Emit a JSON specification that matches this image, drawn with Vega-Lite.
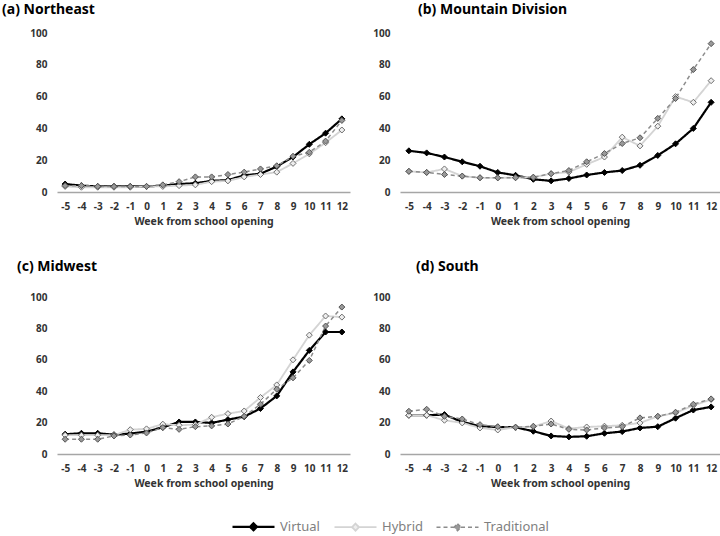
{
"$schema":"https://vega.github.io/schema/vega-lite/v6.json",
"padding":{"left":2,"top":3,"right":0,"bottom":0},
"background":"white",
"data":{"values":[
{"region":"Northeast","series":"Virtual","week":-5,"value":5},{"region":"Northeast","series":"Virtual","week":-4,"value":4},{"region":"Northeast","series":"Virtual","week":-3,"value":3.5},{"region":"Northeast","series":"Virtual","week":-2,"value":3.5},{"region":"Northeast","series":"Virtual","week":-1,"value":3.5},{"region":"Northeast","series":"Virtual","week":0,"value":3.5},{"region":"Northeast","series":"Virtual","week":1,"value":4},{"region":"Northeast","series":"Virtual","week":2,"value":5},{"region":"Northeast","series":"Virtual","week":3,"value":5.5},{"region":"Northeast","series":"Virtual","week":4,"value":7},{"region":"Northeast","series":"Virtual","week":5,"value":7.5},{"region":"Northeast","series":"Virtual","week":6,"value":10.5},{"region":"Northeast","series":"Virtual","week":7,"value":11.5},{"region":"Northeast","series":"Virtual","week":8,"value":16},{"region":"Northeast","series":"Virtual","week":9,"value":22},{"region":"Northeast","series":"Virtual","week":10,"value":30},{"region":"Northeast","series":"Virtual","week":11,"value":37},{"region":"Northeast","series":"Virtual","week":12,"value":46},
{"region":"Northeast","series":"Hybrid","week":-5,"value":3.5},{"region":"Northeast","series":"Hybrid","week":-4,"value":3},{"region":"Northeast","series":"Hybrid","week":-3,"value":3},{"region":"Northeast","series":"Hybrid","week":-2,"value":3},{"region":"Northeast","series":"Hybrid","week":-1,"value":3},{"region":"Northeast","series":"Hybrid","week":0,"value":3.5},{"region":"Northeast","series":"Hybrid","week":1,"value":3.5},{"region":"Northeast","series":"Hybrid","week":2,"value":4},{"region":"Northeast","series":"Hybrid","week":3,"value":4.5},{"region":"Northeast","series":"Hybrid","week":4,"value":6.5},{"region":"Northeast","series":"Hybrid","week":5,"value":7},{"region":"Northeast","series":"Hybrid","week":6,"value":9.5},{"region":"Northeast","series":"Hybrid","week":7,"value":11},{"region":"Northeast","series":"Hybrid","week":8,"value":12.5},{"region":"Northeast","series":"Hybrid","week":9,"value":18},{"region":"Northeast","series":"Hybrid","week":10,"value":24},{"region":"Northeast","series":"Hybrid","week":11,"value":31},{"region":"Northeast","series":"Hybrid","week":12,"value":39},
{"region":"Northeast","series":"Traditional","week":-5,"value":4},{"region":"Northeast","series":"Traditional","week":-4,"value":4},{"region":"Northeast","series":"Traditional","week":-3,"value":3.5},{"region":"Northeast","series":"Traditional","week":-2,"value":3.5},{"region":"Northeast","series":"Traditional","week":-1,"value":3.5},{"region":"Northeast","series":"Traditional","week":0,"value":3.5},{"region":"Northeast","series":"Traditional","week":1,"value":4.5},{"region":"Northeast","series":"Traditional","week":2,"value":6.5},{"region":"Northeast","series":"Traditional","week":3,"value":9.5},{"region":"Northeast","series":"Traditional","week":4,"value":9.5},{"region":"Northeast","series":"Traditional","week":5,"value":11},{"region":"Northeast","series":"Traditional","week":6,"value":12.5},{"region":"Northeast","series":"Traditional","week":7,"value":14.5},{"region":"Northeast","series":"Traditional","week":8,"value":16.5},{"region":"Northeast","series":"Traditional","week":9,"value":22.5},{"region":"Northeast","series":"Traditional","week":10,"value":25},{"region":"Northeast","series":"Traditional","week":11,"value":32},{"region":"Northeast","series":"Traditional","week":12,"value":45},
{"region":"Mountain Division","series":"Virtual","week":-5,"value":25.9},{"region":"Mountain Division","series":"Virtual","week":-4,"value":24.6},{"region":"Mountain Division","series":"Virtual","week":-3,"value":22},{"region":"Mountain Division","series":"Virtual","week":-2,"value":19},{"region":"Mountain Division","series":"Virtual","week":-1,"value":16.2},{"region":"Mountain Division","series":"Virtual","week":0,"value":12.3},{"region":"Mountain Division","series":"Virtual","week":1,"value":10.5},{"region":"Mountain Division","series":"Virtual","week":2,"value":8},{"region":"Mountain Division","series":"Virtual","week":3,"value":7},{"region":"Mountain Division","series":"Virtual","week":4,"value":8.5},{"region":"Mountain Division","series":"Virtual","week":5,"value":10.7},{"region":"Mountain Division","series":"Virtual","week":6,"value":12.3},{"region":"Mountain Division","series":"Virtual","week":7,"value":13.5},{"region":"Mountain Division","series":"Virtual","week":8,"value":16.8},{"region":"Mountain Division","series":"Virtual","week":9,"value":23},{"region":"Mountain Division","series":"Virtual","week":10,"value":30.3},{"region":"Mountain Division","series":"Virtual","week":11,"value":40},{"region":"Mountain Division","series":"Virtual","week":12,"value":56.4},
{"region":"Mountain Division","series":"Hybrid","week":-5,"value":13},{"region":"Mountain Division","series":"Hybrid","week":-4,"value":12.3},{"region":"Mountain Division","series":"Hybrid","week":-3,"value":14.5},{"region":"Mountain Division","series":"Hybrid","week":-2,"value":10},{"region":"Mountain Division","series":"Hybrid","week":-1,"value":8.9},{"region":"Mountain Division","series":"Hybrid","week":0,"value":8.9},{"region":"Mountain Division","series":"Hybrid","week":1,"value":9},{"region":"Mountain Division","series":"Hybrid","week":2,"value":9.3},{"region":"Mountain Division","series":"Hybrid","week":3,"value":11.5},{"region":"Mountain Division","series":"Hybrid","week":4,"value":12.5},{"region":"Mountain Division","series":"Hybrid","week":5,"value":17.4},{"region":"Mountain Division","series":"Hybrid","week":6,"value":22},{"region":"Mountain Division","series":"Hybrid","week":7,"value":34.5},{"region":"Mountain Division","series":"Hybrid","week":8,"value":29},{"region":"Mountain Division","series":"Hybrid","week":9,"value":41.4},{"region":"Mountain Division","series":"Hybrid","week":10,"value":60},{"region":"Mountain Division","series":"Hybrid","week":11,"value":56.4},{"region":"Mountain Division","series":"Hybrid","week":12,"value":70},
{"region":"Mountain Division","series":"Traditional","week":-5,"value":13},{"region":"Mountain Division","series":"Traditional","week":-4,"value":12.3},{"region":"Mountain Division","series":"Traditional","week":-3,"value":11},{"region":"Mountain Division","series":"Traditional","week":-2,"value":10},{"region":"Mountain Division","series":"Traditional","week":-1,"value":9},{"region":"Mountain Division","series":"Traditional","week":0,"value":8.9},{"region":"Mountain Division","series":"Traditional","week":1,"value":9},{"region":"Mountain Division","series":"Traditional","week":2,"value":9.3},{"region":"Mountain Division","series":"Traditional","week":3,"value":11.5},{"region":"Mountain Division","series":"Traditional","week":4,"value":13.5},{"region":"Mountain Division","series":"Traditional","week":5,"value":19},{"region":"Mountain Division","series":"Traditional","week":6,"value":24.2},{"region":"Mountain Division","series":"Traditional","week":7,"value":30.5},{"region":"Mountain Division","series":"Traditional","week":8,"value":34.1},{"region":"Mountain Division","series":"Traditional","week":9,"value":46.3},{"region":"Mountain Division","series":"Traditional","week":10,"value":58.8},{"region":"Mountain Division","series":"Traditional","week":11,"value":77},{"region":"Mountain Division","series":"Traditional","week":12,"value":93.3},
{"region":"Midwest","series":"Virtual","week":-5,"value":12.6},{"region":"Midwest","series":"Virtual","week":-4,"value":13.2},{"region":"Midwest","series":"Virtual","week":-3,"value":13.2},{"region":"Midwest","series":"Virtual","week":-2,"value":12.3},{"region":"Midwest","series":"Virtual","week":-1,"value":13},{"region":"Midwest","series":"Virtual","week":0,"value":14.3},{"region":"Midwest","series":"Virtual","week":1,"value":17},{"region":"Midwest","series":"Virtual","week":2,"value":20.4},{"region":"Midwest","series":"Virtual","week":3,"value":20.4},{"region":"Midwest","series":"Virtual","week":4,"value":19.8},{"region":"Midwest","series":"Virtual","week":5,"value":21.9},{"region":"Midwest","series":"Virtual","week":6,"value":23.8},{"region":"Midwest","series":"Virtual","week":7,"value":29},{"region":"Midwest","series":"Virtual","week":8,"value":37},{"region":"Midwest","series":"Virtual","week":9,"value":52.3},{"region":"Midwest","series":"Virtual","week":10,"value":66},{"region":"Midwest","series":"Virtual","week":11,"value":77.7},{"region":"Midwest","series":"Virtual","week":12,"value":77.7},
{"region":"Midwest","series":"Hybrid","week":-5,"value":12},{"region":"Midwest","series":"Hybrid","week":-4,"value":12},{"region":"Midwest","series":"Hybrid","week":-3,"value":12},{"region":"Midwest","series":"Hybrid","week":-2,"value":12},{"region":"Midwest","series":"Hybrid","week":-1,"value":15.5},{"region":"Midwest","series":"Hybrid","week":0,"value":16},{"region":"Midwest","series":"Hybrid","week":1,"value":19},{"region":"Midwest","series":"Hybrid","week":2,"value":18.3},{"region":"Midwest","series":"Hybrid","week":3,"value":18.7},{"region":"Midwest","series":"Hybrid","week":4,"value":23.4},{"region":"Midwest","series":"Hybrid","week":5,"value":25.7},{"region":"Midwest","series":"Hybrid","week":6,"value":27.4},{"region":"Midwest","series":"Hybrid","week":7,"value":36},{"region":"Midwest","series":"Hybrid","week":8,"value":44},{"region":"Midwest","series":"Hybrid","week":9,"value":60},{"region":"Midwest","series":"Hybrid","week":10,"value":75.7},{"region":"Midwest","series":"Hybrid","week":11,"value":87.9},{"region":"Midwest","series":"Hybrid","week":12,"value":87.2},
{"region":"Midwest","series":"Traditional","week":-5,"value":9.4},{"region":"Midwest","series":"Traditional","week":-4,"value":9.4},{"region":"Midwest","series":"Traditional","week":-3,"value":9.4},{"region":"Midwest","series":"Traditional","week":-2,"value":11.5},{"region":"Midwest","series":"Traditional","week":-1,"value":12.1},{"region":"Midwest","series":"Traditional","week":0,"value":13.4},{"region":"Midwest","series":"Traditional","week":1,"value":16.8},{"region":"Midwest","series":"Traditional","week":2,"value":15.7},{"region":"Midwest","series":"Traditional","week":3,"value":17.4},{"region":"Midwest","series":"Traditional","week":4,"value":17.9},{"region":"Midwest","series":"Traditional","week":5,"value":19.1},{"region":"Midwest","series":"Traditional","week":6,"value":24},{"region":"Midwest","series":"Traditional","week":7,"value":31.7},{"region":"Midwest","series":"Traditional","week":8,"value":41.3},{"region":"Midwest","series":"Traditional","week":9,"value":48.5},{"region":"Midwest","series":"Traditional","week":10,"value":59.6},{"region":"Midwest","series":"Traditional","week":11,"value":81.5},{"region":"Midwest","series":"Traditional","week":12,"value":93.6},
{"region":"South","series":"Virtual","week":-5,"value":24.7},{"region":"South","series":"Virtual","week":-4,"value":24.7},{"region":"South","series":"Virtual","week":-3,"value":25.1},{"region":"South","series":"Virtual","week":-2,"value":20.4},{"region":"South","series":"Virtual","week":-1,"value":17.7},{"region":"South","series":"Virtual","week":0,"value":17.2},{"region":"South","series":"Virtual","week":1,"value":17},{"region":"South","series":"Virtual","week":2,"value":14.5},{"region":"South","series":"Virtual","week":3,"value":11.5},{"region":"South","series":"Virtual","week":4,"value":10.9},{"region":"South","series":"Virtual","week":5,"value":11.3},{"region":"South","series":"Virtual","week":6,"value":13.2},{"region":"South","series":"Virtual","week":7,"value":14.3},{"region":"South","series":"Virtual","week":8,"value":16.6},{"region":"South","series":"Virtual","week":9,"value":17.4},{"region":"South","series":"Virtual","week":10,"value":22.8},{"region":"South","series":"Virtual","week":11,"value":28},{"region":"South","series":"Virtual","week":12,"value":30},
{"region":"South","series":"Hybrid","week":-5,"value":24.7},{"region":"South","series":"Hybrid","week":-4,"value":24.7},{"region":"South","series":"Hybrid","week":-3,"value":21.5},{"region":"South","series":"Hybrid","week":-2,"value":19.8},{"region":"South","series":"Hybrid","week":-1,"value":16.6},{"region":"South","series":"Hybrid","week":0,"value":15.3},{"region":"South","series":"Hybrid","week":1,"value":17},{"region":"South","series":"Hybrid","week":2,"value":17.4},{"region":"South","series":"Hybrid","week":3,"value":21},{"region":"South","series":"Hybrid","week":4,"value":16.2},{"region":"South","series":"Hybrid","week":5,"value":17.2},{"region":"South","series":"Hybrid","week":6,"value":17.7},{"region":"South","series":"Hybrid","week":7,"value":18.3},{"region":"South","series":"Hybrid","week":8,"value":19.8},{"region":"South","series":"Hybrid","week":9,"value":24},{"region":"South","series":"Hybrid","week":10,"value":26.2},{"region":"South","series":"Hybrid","week":11,"value":30.9},{"region":"South","series":"Hybrid","week":12,"value":34.7},
{"region":"South","series":"Traditional","week":-5,"value":27.2},{"region":"South","series":"Traditional","week":-4,"value":28.5},{"region":"South","series":"Traditional","week":-3,"value":24},{"region":"South","series":"Traditional","week":-2,"value":22.3},{"region":"South","series":"Traditional","week":-1,"value":18.7},{"region":"South","series":"Traditional","week":0,"value":17.4},{"region":"South","series":"Traditional","week":1,"value":17},{"region":"South","series":"Traditional","week":2,"value":17.7},{"region":"South","series":"Traditional","week":3,"value":19.1},{"region":"South","series":"Traditional","week":4,"value":15.7},{"region":"South","series":"Traditional","week":5,"value":15.3},{"region":"South","series":"Traditional","week":6,"value":16.6},{"region":"South","series":"Traditional","week":7,"value":17.4},{"region":"South","series":"Traditional","week":8,"value":23},{"region":"South","series":"Traditional","week":9,"value":24},{"region":"South","series":"Traditional","week":10,"value":26.6},{"region":"South","series":"Traditional","week":11,"value":31.7},{"region":"South","series":"Traditional","week":12,"value":35.1}
]},
"config":{
 "view":{"stroke":null},
 "font":"Noto Sans",
 "title":{"font":"Noto Sans","fontSize":14,"fontWeight":"bold","color":"#000000","anchor":"start","frame":"group"},
 "axisX":{"domainColor":"#a6a6a6","domainWidth":1.5,"ticks":false,"grid":false,"labelAngle":0,"labelFont":"Noto Sans","labelFontWeight":"bold","labelFontSize":10,"labelColor":"#333333","labelPadding":9,"titleFont":"Noto Sans","titleFontWeight":"bold","titleFontSize":10.5,"titleColor":"#333333","titlePadding":5},
 "axisY":{"domain":false,"ticks":false,"grid":false,"labelFont":"Noto Sans","labelFontWeight":"bold","labelFontSize":10,"labelColor":"#333333","labelPadding":10}
},
"columns":2,
"spacing":{"row":105,"column":50},
"bounds":"flush",
"concat":[
  {"width":293,"height":159,
   "title":{"text":"(a) Northeast","dx":-55,"offset":11},
   "transform":[{"filter":"datum.region==='Northeast'"}],
   "encoding":{
    "x":{"field":"week","type":"ordinal","scale":{"type":"point","padding":0.5,"domain":[-5,-4,-3,-2,-1,0,1,2,3,4,5,6,7,8,9,10,11,12]},"axis":{"title":"Week from school opening"}},
    "y":{"field":"value","type":"quantitative","scale":{"domain":[0,100]},"axis":{"title":null,"values":[0,20,40,60,80,100]}}
   },
   "layer":[
    {"mark":{"type":"line"},"encoding":{
      "color":{"field":"series","type":"nominal","scale":{"domain":["Virtual","Hybrid","Traditional"],"range":["#000000","#d4d4d4","#8c8c8c"]},"legend":{"title":null,"orient":"none","legendX":174,"legendY":487,"direction":"horizontal","symbolType":"M-4.2,0H-0.7M0.7,0H4.2M0,-0.7L0.7,0L0,0.7L-0.7,0Z","symbolSize":100,"symbolStrokeWidth":2,"labelFontSize":13,"labelColor":"#7f7f7f","labelFont":"Noto Sans","symbolOffset":16,"labelOffset":20,"columnPadding":10}},
      "strokeDash":{"field":"series","type":"nominal","scale":{"domain":["Virtual","Hybrid","Traditional"],"range":[[1,0],[1,0],[4,3]]},"legend":{"title":null,"orient":"none","legendX":174,"legendY":487,"direction":"horizontal","symbolType":"M-4.2,0H-0.7M0.7,0H4.2M0,-0.7L0.7,0L0,0.7L-0.7,0Z","symbolSize":100,"symbolStrokeWidth":2,"labelFontSize":13,"labelColor":"#7f7f7f","labelFont":"Noto Sans","symbolOffset":16,"labelOffset":20,"columnPadding":10}},
      "strokeWidth":{"field":"series","type":"ordinal","scale":{"domain":["Virtual","Hybrid","Traditional"],"range":[2.2,1.5,1.3]},"legend":null}}},
    {"mark":{"type":"point","shape":"diamond","filled":true,"size":36,"strokeWidth":1,"opacity":1},"encoding":{
      "fill":{"field":"series","type":"nominal","scale":{"domain":["Virtual","Hybrid","Traditional"],"range":["#000000","#eeeeee","#999999"]},"legend":{"title":null,"orient":"none","legendX":174,"legendY":487,"direction":"horizontal","symbolType":"M-4.2,0H-0.7M0.7,0H4.2M0,-0.7L0.7,0L0,0.7L-0.7,0Z","symbolSize":100,"symbolStrokeWidth":2,"labelFontSize":13,"labelColor":"#7f7f7f","labelFont":"Noto Sans","symbolOffset":16,"labelOffset":20,"columnPadding":10}},
      "stroke":{"field":"series","type":"nominal","scale":{"domain":["Virtual","Hybrid","Traditional"],"range":["#000000","#6e6e6e","#555555"]},"legend":null}}}
   ]},
  {"width":320,"height":159,
   "title":{"text":"(b) Mountain Division","dx":18,"offset":11},
   "transform":[{"filter":"datum.region==='Mountain Division'"}],
   "encoding":{
    "x":{"field":"week","type":"ordinal","scale":{"type":"point","padding":0.5,"domain":[-5,-4,-3,-2,-1,0,1,2,3,4,5,6,7,8,9,10,11,12]},"axis":{"title":"Week from school opening"}},
    "y":{"field":"value","type":"quantitative","scale":{"domain":[0,100]},"axis":{"title":null,"values":[0,20,40,60,80,100]}}
   },
   "layer":[
    {"mark":{"type":"line"},"encoding":{
      "color":{"field":"series","type":"nominal","scale":{"domain":["Virtual","Hybrid","Traditional"],"range":["#000000","#d4d4d4","#8c8c8c"]},"legend":{"title":null,"orient":"none","legendX":174,"legendY":487,"direction":"horizontal","symbolType":"M-4.2,0H-0.7M0.7,0H4.2M0,-0.7L0.7,0L0,0.7L-0.7,0Z","symbolSize":100,"symbolStrokeWidth":2,"labelFontSize":13,"labelColor":"#7f7f7f","labelFont":"Noto Sans","symbolOffset":16,"labelOffset":20,"columnPadding":10}},
      "strokeDash":{"field":"series","type":"nominal","scale":{"domain":["Virtual","Hybrid","Traditional"],"range":[[1,0],[1,0],[4,3]]},"legend":{"title":null,"orient":"none","legendX":174,"legendY":487,"direction":"horizontal","symbolType":"M-4.2,0H-0.7M0.7,0H4.2M0,-0.7L0.7,0L0,0.7L-0.7,0Z","symbolSize":100,"symbolStrokeWidth":2,"labelFontSize":13,"labelColor":"#7f7f7f","labelFont":"Noto Sans","symbolOffset":16,"labelOffset":20,"columnPadding":10}},
      "strokeWidth":{"field":"series","type":"ordinal","scale":{"domain":["Virtual","Hybrid","Traditional"],"range":[2.2,1.5,1.3]},"legend":null}}},
    {"mark":{"type":"point","shape":"diamond","filled":true,"size":36,"strokeWidth":1,"opacity":1},"encoding":{
      "fill":{"field":"series","type":"nominal","scale":{"domain":["Virtual","Hybrid","Traditional"],"range":["#000000","#eeeeee","#999999"]},"legend":{"title":null,"orient":"none","legendX":174,"legendY":487,"direction":"horizontal","symbolType":"M-4.2,0H-0.7M0.7,0H4.2M0,-0.7L0.7,0L0,0.7L-0.7,0Z","symbolSize":100,"symbolStrokeWidth":2,"labelFontSize":13,"labelColor":"#7f7f7f","labelFont":"Noto Sans","symbolOffset":16,"labelOffset":20,"columnPadding":10}},
      "stroke":{"field":"series","type":"nominal","scale":{"domain":["Virtual","Hybrid","Traditional"],"range":["#000000","#6e6e6e","#555555"]},"legend":null}}}
   ]},
  {"width":293,"height":157,
   "title":{"text":"(c) Midwest","dx":-40,"offset":18},
   "transform":[{"filter":"datum.region==='Midwest'"}],
   "encoding":{
    "x":{"field":"week","type":"ordinal","scale":{"type":"point","padding":0.5,"domain":[-5,-4,-3,-2,-1,0,1,2,3,4,5,6,7,8,9,10,11,12]},"axis":{"title":"Week from school opening"}},
    "y":{"field":"value","type":"quantitative","scale":{"domain":[0,100]},"axis":{"title":null,"values":[0,20,40,60,80,100]}}
   },
   "layer":[
    {"mark":{"type":"line"},"encoding":{
      "color":{"field":"series","type":"nominal","scale":{"domain":["Virtual","Hybrid","Traditional"],"range":["#000000","#d4d4d4","#8c8c8c"]},"legend":{"title":null,"orient":"none","legendX":174,"legendY":487,"direction":"horizontal","symbolType":"M-4.2,0H-0.7M0.7,0H4.2M0,-0.7L0.7,0L0,0.7L-0.7,0Z","symbolSize":100,"symbolStrokeWidth":2,"labelFontSize":13,"labelColor":"#7f7f7f","labelFont":"Noto Sans","symbolOffset":16,"labelOffset":20,"columnPadding":10}},
      "strokeDash":{"field":"series","type":"nominal","scale":{"domain":["Virtual","Hybrid","Traditional"],"range":[[1,0],[1,0],[4,3]]},"legend":{"title":null,"orient":"none","legendX":174,"legendY":487,"direction":"horizontal","symbolType":"M-4.2,0H-0.7M0.7,0H4.2M0,-0.7L0.7,0L0,0.7L-0.7,0Z","symbolSize":100,"symbolStrokeWidth":2,"labelFontSize":13,"labelColor":"#7f7f7f","labelFont":"Noto Sans","symbolOffset":16,"labelOffset":20,"columnPadding":10}},
      "strokeWidth":{"field":"series","type":"ordinal","scale":{"domain":["Virtual","Hybrid","Traditional"],"range":[2.2,1.5,1.3]},"legend":null}}},
    {"mark":{"type":"point","shape":"diamond","filled":true,"size":36,"strokeWidth":1,"opacity":1},"encoding":{
      "fill":{"field":"series","type":"nominal","scale":{"domain":["Virtual","Hybrid","Traditional"],"range":["#000000","#eeeeee","#999999"]},"legend":{"title":null,"orient":"none","legendX":174,"legendY":487,"direction":"horizontal","symbolType":"M-4.2,0H-0.7M0.7,0H4.2M0,-0.7L0.7,0L0,0.7L-0.7,0Z","symbolSize":100,"symbolStrokeWidth":2,"labelFontSize":13,"labelColor":"#7f7f7f","labelFont":"Noto Sans","symbolOffset":16,"labelOffset":20,"columnPadding":10}},
      "stroke":{"field":"series","type":"nominal","scale":{"domain":["Virtual","Hybrid","Traditional"],"range":["#000000","#6e6e6e","#555555"]},"legend":null}}}
   ]},
  {"width":320,"height":157,
   "title":{"text":"(d) South","dx":16,"offset":18},
   "transform":[{"filter":"datum.region==='South'"}],
   "encoding":{
    "x":{"field":"week","type":"ordinal","scale":{"type":"point","padding":0.5,"domain":[-5,-4,-3,-2,-1,0,1,2,3,4,5,6,7,8,9,10,11,12]},"axis":{"title":"Week from school opening"}},
    "y":{"field":"value","type":"quantitative","scale":{"domain":[0,100]},"axis":{"title":null,"values":[0,20,40,60,80,100]}}
   },
   "layer":[
    {"mark":{"type":"line"},"encoding":{
      "color":{"field":"series","type":"nominal","scale":{"domain":["Virtual","Hybrid","Traditional"],"range":["#000000","#d4d4d4","#8c8c8c"]},"legend":{"title":null,"orient":"none","legendX":174,"legendY":487,"direction":"horizontal","symbolType":"M-4.2,0H-0.7M0.7,0H4.2M0,-0.7L0.7,0L0,0.7L-0.7,0Z","symbolSize":100,"symbolStrokeWidth":2,"labelFontSize":13,"labelColor":"#7f7f7f","labelFont":"Noto Sans","symbolOffset":16,"labelOffset":20,"columnPadding":10}},
      "strokeDash":{"field":"series","type":"nominal","scale":{"domain":["Virtual","Hybrid","Traditional"],"range":[[1,0],[1,0],[4,3]]},"legend":{"title":null,"orient":"none","legendX":174,"legendY":487,"direction":"horizontal","symbolType":"M-4.2,0H-0.7M0.7,0H4.2M0,-0.7L0.7,0L0,0.7L-0.7,0Z","symbolSize":100,"symbolStrokeWidth":2,"labelFontSize":13,"labelColor":"#7f7f7f","labelFont":"Noto Sans","symbolOffset":16,"labelOffset":20,"columnPadding":10}},
      "strokeWidth":{"field":"series","type":"ordinal","scale":{"domain":["Virtual","Hybrid","Traditional"],"range":[2.2,1.5,1.3]},"legend":null}}},
    {"mark":{"type":"point","shape":"diamond","filled":true,"size":36,"strokeWidth":1,"opacity":1},"encoding":{
      "fill":{"field":"series","type":"nominal","scale":{"domain":["Virtual","Hybrid","Traditional"],"range":["#000000","#eeeeee","#999999"]},"legend":{"title":null,"orient":"none","legendX":174,"legendY":487,"direction":"horizontal","symbolType":"M-4.2,0H-0.7M0.7,0H4.2M0,-0.7L0.7,0L0,0.7L-0.7,0Z","symbolSize":100,"symbolStrokeWidth":2,"labelFontSize":13,"labelColor":"#7f7f7f","labelFont":"Noto Sans","symbolOffset":16,"labelOffset":20,"columnPadding":10}},
      "stroke":{"field":"series","type":"nominal","scale":{"domain":["Virtual","Hybrid","Traditional"],"range":["#000000","#6e6e6e","#555555"]},"legend":null}}}
   ]}
]
}
